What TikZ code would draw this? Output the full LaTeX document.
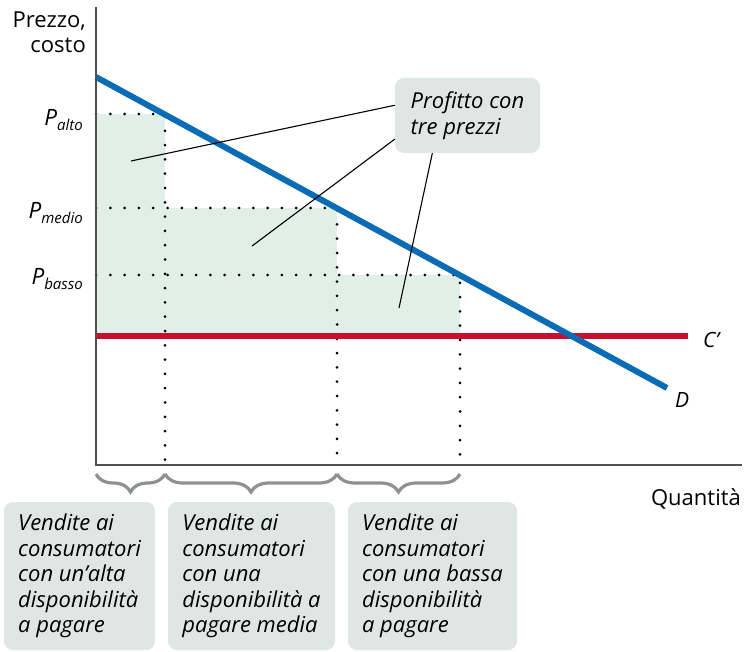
\documentclass[tikz,border=0pt]{standalone}
\usepackage{fontspec}
\setmainfont{Open Sans}
\usetikzlibrary{decorations.pathreplacing}
\definecolor{demandblue}{HTML}{0A6CB4}
\definecolor{costred}{HTML}{C8102E}
\definecolor{profitfill}{HTML}{E2EFE8}
\definecolor{notefill}{HTML}{DFE7E4}
\definecolor{bracegray}{HTML}{8E928F}
\definecolor{axisgray}{HTML}{505050}
\newcommand{\psub}[1]{P\raisebox{-5pt}{\fontsize{15}{15}\selectfont #1}}

\begin{document}
\begin{tikzpicture}[x=1pt, y=-1pt,
		note/.style={fill=notefill, rounded corners=9pt, align=left, minimum height=148pt, font=\fontsize{22}{25.5}\selectfont\itshape},
		plabel/.style={anchor=base east, inner sep=0pt, font=\fontsize{22.5}{22}\selectfont\itshape},
		dots/.style={line width=3pt, line cap=round, dash pattern=on 0pt off 14.3pt},
		bracket/.style={decorate, decoration={brace, amplitude=18pt}, line width=3.2pt, bracegray},
		leader/.style={line width=1.1pt, black}]
	\useasboundingbox (0,0) rectangle (744,652);

	% profit areas
	\fill[profitfill] (96,114) rectangle (165,336);
	\fill[profitfill] (165,208) rectangle (337,336);
	\fill[profitfill] (337,275) rectangle (460,336);

	% prices
	\draw[dots] (96,114) -- (165,114) -- (165,463);
	\draw[dots] (96,208) -- (337,208) -- (337,463);
	\draw[dots] (96,275) -- (460,275) -- (460,463);

	% cost and demand
	\coordinate (c0) at (96,336);
	\coordinate (c1) at (688,336);
	\coordinate (d0) at (96,77);
	\coordinate (d1) at (667,388);
	\draw[costred, line width=6pt] (c0) -- (c1);
	\draw[demandblue, line width=6pt] (d0) -- (d1);

	% axes
	\coordinate (O) at (96,465);
	\coordinate (ytop) at (96,7);
	\coordinate (xend) at (742,465);
	\draw[axisgray, line width=1.4pt] (ytop) -- (O) -- (xend);

	\node[anchor=north east, inner sep=0pt, align=right, font=\fontsize{22}{25}\selectfont] at (86,12) (yname) {Prezzo,\\costo};
	\node[anchor=base east, inner sep=0pt, font=\fontsize{22}{22}\selectfont] at (741,505) (xname) {Quantità};

	\node[plabel] at (83,126) (palto) {\psub{alto}};
	\node[plabel] at (83,219) (pmedio) {\psub{medio}};
	\node[plabel] at (83,285) (pbasso) {\psub{basso}};

	\node[anchor=base west, inner sep=0pt, font=\fontsize{21}{21}\selectfont\itshape] at (703,347) (cname) {C’};
	\node[anchor=base west, inner sep=0pt, font=\fontsize{21}{21}\selectfont\itshape] at (675,407) (dname) {D};

	% profit note
	\node[note, minimum height=75pt, minimum width=145pt] at (467.5,115.5) (profit) {Profitto con\\tre prezzi};
	\coordinate (a1) at (131,161);
	\coordinate (a2) at (252,246);
	\coordinate (a3) at (399,308);
	\path
	(profit.172) edge[leader] (a1)
	(profit.198) edge[leader] (a2)
	(profit.227) edge[leader] (a3);

	% quantities
	\draw[bracket] (165,474) -- (96,474);
	\draw[bracket] (337,474) -- (165,474);
	\draw[bracket] (460,474) -- (337,474);

	\node[note, minimum width=151pt] at (79.5,576) (alta) {Vendite ai\\consumatori\\con un’alta\\disponibilità\\a pagare};
	\node[note, minimum width=167pt] at (251.5,576) (media) {Vendite ai\\consumatori\\con una\\disponibilità a\\pagare media};
	\node[note, minimum width=169pt] at (432.5,576) (bassa) {Vendite ai\\consumatori\\con una bassa\\disponibilità\\a pagare};
\end{tikzpicture}
\end{document}
